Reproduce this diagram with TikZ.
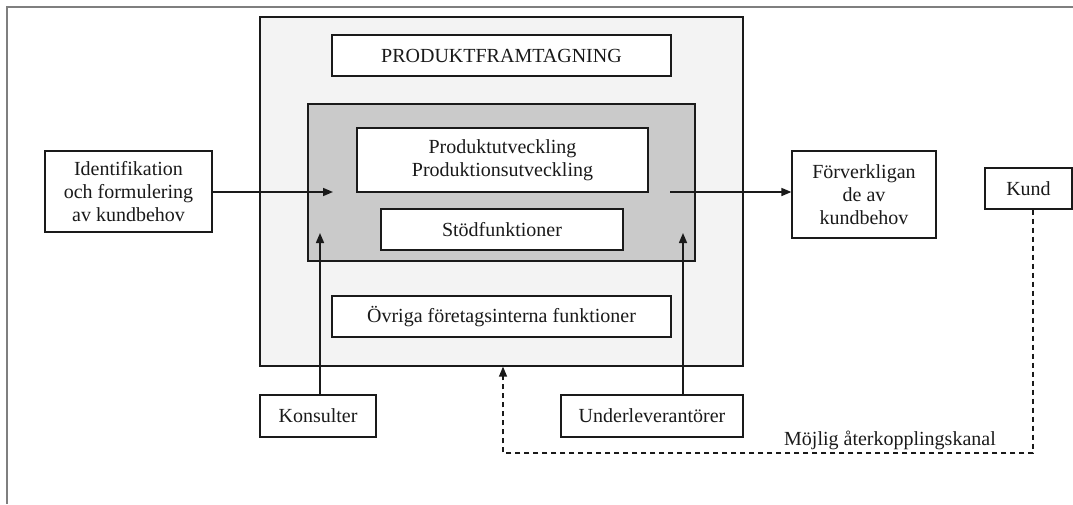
\documentclass[tikz,border=0pt]{standalone}
\usepackage{fontspec}
\setmainfont{Liberation Serif}
\usetikzlibrary{arrows.meta}
\definecolor{framegray}{HTML}{7F7F7F}
\definecolor{outerfill}{HTML}{F3F3F3}
\definecolor{innerfill}{HTML}{CACACA}
\definecolor{ink}{HTML}{1A1A1A}
\tikzset{
  box/.style={draw=ink, line width=1.2pt, fill=white, inner sep=0pt,
    align=center, text=ink, font=\fontsize{20}{23}\selectfont},
  arr/.style={draw=ink, line width=1.5pt, -{Triangle[length=10pt,width=8pt]}},
  feedback/.style={draw=ink, line width=1.3pt, dash pattern=on 5pt off 4pt,
    -{Triangle[length=10pt,width=8pt]}}
}
\begin{document}
\begin{tikzpicture}[x=1pt,y=-1pt]
\useasboundingbox (0,0) rectangle (1073,504);
% page frame (top and left edges)
\draw[framegray, line width=2pt] (1073,7) -- (7,7) -- (7,504);

% product development container
\node[box, fill=outerfill, minimum width=483pt, minimum height=349pt] (big) at (501.5,191.5) {};
\node[box, minimum width=339pt, minimum height=41pt] (title) at (501.5,55.5) {PRODUKTFRAMTAGNING};
\node[box, fill=innerfill, minimum width=387pt, minimum height=157pt] (core) at (501.5,182.5) {};
\node[box, minimum width=291pt, minimum height=64pt] (prod) at (502.5,160) {Produktutveckling\\Produktionsutveckling};
\node[box, minimum width=242pt, minimum height=41pt] (stod) at (502,229.5) {Stödfunktioner};
\node[box, minimum width=339pt, minimum height=41pt] (ovr) at (501.5,316.5) {Övriga företagsinterna funktioner};

% surrounding actors
\node[box, minimum width=167pt, minimum height=81pt] (ident) at (128.5,191.5) {Identifikation\\och formulering\\av kundbehov};
\node[box, minimum width=144pt, minimum height=87pt] (forv) at (864,194.5) {Förverkligan\\de av\\kundbehov};
\node[box, minimum width=87pt, minimum height=41pt] (kund) at (1028.5,188.5) {Kund};
\node[box, minimum width=116pt, minimum height=42pt] (kons) at (318,416) {Konsulter};
\node[box, minimum width=182pt, minimum height=42pt] (under) at (652,416) {Underleverantörer};

% arrow end points inside the core
\coordinate (inL) at (333,192);
\coordinate (outR) at (670,192);
\coordinate (kin) at (320,233);
\coordinate (uin) at (683,233);
\coordinate (fbR) at (1033,453);
\coordinate (fbL) at (503,453);

\draw[arr] (ident.east |- inL) -- (inL);
\draw[arr] (outR) -- (outR -| forv.west);
\draw[arr] (kons.north -| kin) -- (kin);
\draw[arr] (under.north -| uin) -- (uin);
\draw[feedback] (kund.south -| fbR) -- (fbR) -- (fbL) -- (big.south -| fbL);

\node[anchor=base east, text=ink, font=\fontsize{20}{23}\selectfont, inner sep=0pt] (lab) at (996,445) {Möjlig återkopplingskanal};
\end{tikzpicture}
\end{document}
